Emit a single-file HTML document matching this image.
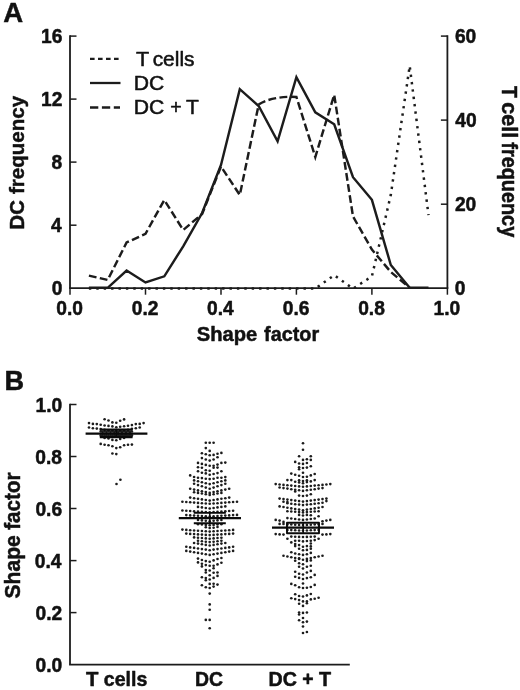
<!DOCTYPE html>
<html lang="en">
<head>
<meta charset="utf-8">
<title>Figure: shape factor of DC and T cells</title>
<style>
html,body{margin:0;padding:0;background:#fff;}
body{width:520px;height:690px;overflow:hidden;font-family:"Liberation Sans",Arial,Helvetica,sans-serif;}
svg{display:block;will-change:transform;}
</style>
</head>
<body>
<svg width="520" height="690" viewBox="0 0 520 690">
<g font-family="'Liberation Sans', Arial, Helvetica, sans-serif" fill="#111" stroke="#111" stroke-width="0.5" stroke-linejoin="round">
<text x="3.15" y="22.3" font-size="28.3" font-weight="bold" textLength="19.9" lengthAdjust="spacingAndGlyphs">A</text>
<text x="4.4" y="390.4" font-size="27.5" font-weight="bold" textLength="19.6" lengthAdjust="spacingAndGlyphs">B</text>
<g stroke="#1c1c1c" stroke-width="1.8" fill="none" stroke-linecap="butt">
<path d="M70,35.3 V288.2 M447.4,35.3 V288.2"/>
<path d="M69.1,288.2 H448.3"/>
</g>
<g stroke="#1c1c1c" stroke-width="1.5" fill="none">
<path d="M70,225.2 h6.5"/>
<path d="M70,162.1 h6.5"/>
<path d="M70,99.1 h6.5"/>
<path d="M70,36.1 h6.5"/>
<path d="M447.4,204.2 h-6.5"/>
<path d="M447.4,120.1 h-6.5"/>
<path d="M447.4,36.1 h-6.5"/>
<path d="M70.0,288.2 v6.5"/>
<path d="M145.5,288.2 v6.5"/>
<path d="M221.0,288.2 v6.5"/>
<path d="M296.4,288.2 v6.5"/>
<path d="M371.9,288.2 v6.5"/>
<path d="M447.4,288.2 v6.5"/>
</g>
<text x="51.71" y="295.40" font-size="20.0" font-weight="bold" textLength="10.68" lengthAdjust="spacingAndGlyphs">0</text>
<text x="51.04" y="232.37" font-size="20.0" font-weight="bold" textLength="10.68" lengthAdjust="spacingAndGlyphs">4</text>
<text x="51.52" y="169.35" font-size="20.0" font-weight="bold" textLength="10.68" lengthAdjust="spacingAndGlyphs">8</text>
<text x="41.06" y="106.33" font-size="20.0" font-weight="bold" textLength="21.36" lengthAdjust="spacingAndGlyphs">12</text>
<text x="40.96" y="43.30" font-size="20.0" font-weight="bold" textLength="21.36" lengthAdjust="spacingAndGlyphs">16</text>
<text x="454.83" y="295.40" font-size="20.0" font-weight="bold" textLength="10.68" lengthAdjust="spacingAndGlyphs">0</text>
<text x="454.93" y="211.37" font-size="20.0" font-weight="bold" textLength="21.36" lengthAdjust="spacingAndGlyphs">20</text>
<text x="455.31" y="127.33" font-size="20.0" font-weight="bold" textLength="21.36" lengthAdjust="spacingAndGlyphs">40</text>
<text x="454.93" y="43.30" font-size="20.0" font-weight="bold" textLength="21.36" lengthAdjust="spacingAndGlyphs">60</text>
<text x="56.36" y="315.00" font-size="20.0" font-weight="bold" textLength="26.69" lengthAdjust="spacingAndGlyphs">0.0</text>
<text x="131.84" y="315.00" font-size="20.0" font-weight="bold" textLength="26.69" lengthAdjust="spacingAndGlyphs">0.2</text>
<text x="206.98" y="315.00" font-size="20.0" font-weight="bold" textLength="26.69" lengthAdjust="spacingAndGlyphs">0.4</text>
<text x="282.75" y="315.00" font-size="20.0" font-weight="bold" textLength="26.69" lengthAdjust="spacingAndGlyphs">0.6</text>
<text x="358.18" y="315.00" font-size="20.0" font-weight="bold" textLength="26.69" lengthAdjust="spacingAndGlyphs">0.8</text>
<text x="433.56" y="315.00" font-size="20.0" font-weight="bold" textLength="26.69" lengthAdjust="spacingAndGlyphs">1.0</text>
<text x="196.80" y="341.20" font-size="20.0" font-weight="bold" textLength="60.43" lengthAdjust="spacingAndGlyphs">Shape</text>
<text x="264.10" y="341.20" font-size="20.0" font-weight="bold" textLength="55.06" lengthAdjust="spacingAndGlyphs">factor</text>
<text transform="translate(23.70,228.20) rotate(-90)" x="-1.32" y="0" font-size="20.8" font-weight="bold" textLength="29.32" lengthAdjust="spacingAndGlyphs">DC</text>
<text transform="translate(23.70,193.70) rotate(-90)" x="-0.31" y="0" font-size="20.8" font-weight="bold" textLength="98.20" lengthAdjust="spacingAndGlyphs">frequency</text>
<text transform="translate(502.40,86.30) rotate(90)" x="-0.19" y="0" font-size="21.2" font-weight="bold" textLength="11.70" lengthAdjust="spacingAndGlyphs">T</text>
<text transform="translate(502.40,103.20) rotate(90)" x="-0.86" y="0" font-size="21.2" font-weight="bold" textLength="35.82" lengthAdjust="spacingAndGlyphs">cell</text>
<text transform="translate(502.40,142.60) rotate(90)" x="-0.30" y="0" font-size="21.2" font-weight="bold" textLength="94.89" lengthAdjust="spacingAndGlyphs">frequency</text>
<text transform="translate(19.90,597.90) rotate(-90)" x="-0.63" y="0" font-size="21.2" font-weight="bold" textLength="63.29" lengthAdjust="spacingAndGlyphs">Shape</text>
<text transform="translate(19.90,529.50) rotate(-90)" x="-0.31" y="0" font-size="21.2" font-weight="bold" textLength="57.39" lengthAdjust="spacingAndGlyphs">factor</text>
<g stroke="#1c1c1c" stroke-width="2.3" fill="none">
<path d="M90,58.8 H120" stroke-dasharray="4.6 3.4"/>
<path d="M90,83 H120.5"/>
<path d="M90,107.5 H120" stroke-dasharray="8.3 3.6"/>
</g>
<text x="136.07" y="65.80" font-size="19.5" textLength="13.18" lengthAdjust="spacingAndGlyphs">T</text>
<text x="152.66" y="65.80" font-size="19.5" textLength="41.88" lengthAdjust="spacingAndGlyphs">cells</text>
<text x="133.81" y="89.80" font-size="19.5" textLength="30.52" lengthAdjust="spacingAndGlyphs">DC</text>
<text x="133.81" y="114.10" font-size="19.5" textLength="30.52" lengthAdjust="spacingAndGlyphs">DC</text>
<text x="170.22" y="114.10" font-size="19.5" textLength="11.44" lengthAdjust="spacingAndGlyphs">+</text>
<text x="186.08" y="114.10" font-size="19.5" textLength="12.86" lengthAdjust="spacingAndGlyphs">T</text>
<g stroke="#1c1c1c" fill="none" stroke-linejoin="miter">
<polyline points="88.9,288.6 107.7,288.6 126.6,288.6 145.5,288.6 164.3,288.6 183.2,288.6 202.1,288.6 221.0,288.6 239.8,288.6 258.7,288.6 277.6,288.6 296.4,288.6 315.3,288.6 334.2,275.2 353.0,288.6 371.9,276.4 390.8,194.9 409.7,65.9 428.5,215.1" stroke-width="2.5" stroke-dasharray="2.4 5.0" />
<path d="M88.9,275.6 L107.7,280.0 L126.6,242.5 L145.5,233.8 L164.3,200.0 L183.2,230.0 L202.1,214.0 L221.0,166.5 L239.8,195.0 L258.7,104.5 C266.7,99.0 282.4,96.0 296.4,97.0 L315.3,157.0 L334.2,94.8 L353.0,216.5 L371.9,249.6 L390.8,272.0 L409.7,287.8" stroke-width="2.45" stroke-dasharray="7.8 3.4"/>
<polyline points="88.9,287.8 107.7,287.8 126.6,270.5 145.5,282.5 164.3,276.3 183.2,246.3 202.1,213.0 221.0,165.0 239.8,89.2 258.7,106.0 277.6,141.3 296.4,77.2 315.3,112.3 334.2,124.3 353.0,177.2 371.9,199.8 390.8,265.0 409.7,287.8 428.5,287.8" stroke-width="2.45"/>
</g>
<g stroke="#1c1c1c" stroke-width="1.8" fill="none">
<path d="M70,403.7 V664.6"/>
<path d="M69.1,664.6 H349.8"/>
</g>
<g stroke="#1c1c1c" stroke-width="1.5" fill="none">
<path d="M70,612.6 h6.5"/>
<path d="M70,560.6 h6.5"/>
<path d="M70,508.5 h6.5"/>
<path d="M70,456.5 h6.5"/>
<path d="M70,404.5 h6.5"/>
</g>
<text x="35.48" y="671.80" font-size="20.0" font-weight="bold" textLength="26.69" lengthAdjust="spacingAndGlyphs">0.0</text>
<text x="35.48" y="619.78" font-size="20.0" font-weight="bold" textLength="26.69" lengthAdjust="spacingAndGlyphs">0.2</text>
<text x="34.81" y="567.76" font-size="20.0" font-weight="bold" textLength="26.69" lengthAdjust="spacingAndGlyphs">0.4</text>
<text x="35.38" y="515.74" font-size="20.0" font-weight="bold" textLength="26.69" lengthAdjust="spacingAndGlyphs">0.6</text>
<text x="35.29" y="463.72" font-size="20.0" font-weight="bold" textLength="26.69" lengthAdjust="spacingAndGlyphs">0.8</text>
<text x="35.48" y="411.70" font-size="20.0" font-weight="bold" textLength="26.69" lengthAdjust="spacingAndGlyphs">1.0</text>
<text x="86.00" y="685.50" font-size="19.8" font-weight="bold" textLength="12.42" lengthAdjust="spacingAndGlyphs">T</text>
<text x="103.82" y="685.50" font-size="19.8" font-weight="bold" textLength="43.45" lengthAdjust="spacingAndGlyphs">cells</text>
<text x="195.04" y="685.50" font-size="19.8" font-weight="bold" textLength="28.03" lengthAdjust="spacingAndGlyphs">DC</text>
<text x="268.52" y="685.50" font-size="19.8" font-weight="bold" textLength="28.35" lengthAdjust="spacingAndGlyphs">DC</text>
<text x="302.32" y="685.50" font-size="19.8" font-weight="bold" textLength="11.33" lengthAdjust="spacingAndGlyphs">+</text>
<text x="318.90" y="685.50" font-size="19.8" font-weight="bold" textLength="12.11" lengthAdjust="spacingAndGlyphs">T</text>
<g fill="#1c1c1c" stroke="none">
<circle cx="104.6" cy="419.2" r="1.32"/>
<circle cx="108.5" cy="420.5" r="1.32"/>
<circle cx="112.4" cy="422.4" r="1.32"/>
<circle cx="116.3" cy="422.8" r="1.32"/>
<circle cx="120.2" cy="420.8" r="1.32"/>
<circle cx="124.1" cy="419.4" r="1.32"/>
<circle cx="89.0" cy="423.1" r="1.32"/>
<circle cx="92.9" cy="423.9" r="1.32"/>
<circle cx="96.8" cy="424.1" r="1.32"/>
<circle cx="100.7" cy="424.8" r="1.32"/>
<circle cx="104.6" cy="425.5" r="1.32"/>
<circle cx="108.5" cy="425.9" r="1.32"/>
<circle cx="112.4" cy="426.4" r="1.32"/>
<circle cx="116.3" cy="427.2" r="1.32"/>
<circle cx="120.2" cy="426.8" r="1.32"/>
<circle cx="124.1" cy="426.2" r="1.32"/>
<circle cx="128.0" cy="425.7" r="1.32"/>
<circle cx="131.9" cy="425.1" r="1.32"/>
<circle cx="135.8" cy="424.1" r="1.32"/>
<circle cx="139.7" cy="423.9" r="1.32"/>
<circle cx="143.6" cy="423.1" r="1.32"/>
<circle cx="89.0" cy="427.5" r="1.32"/>
<circle cx="92.9" cy="428.2" r="1.32"/>
<circle cx="96.8" cy="428.6" r="1.32"/>
<circle cx="100.7" cy="429.1" r="1.32"/>
<circle cx="104.6" cy="429.7" r="1.32"/>
<circle cx="108.5" cy="430.2" r="1.32"/>
<circle cx="112.4" cy="430.6" r="1.32"/>
<circle cx="116.3" cy="431.0" r="1.32"/>
<circle cx="120.2" cy="430.6" r="1.32"/>
<circle cx="124.1" cy="430.2" r="1.32"/>
<circle cx="128.0" cy="429.7" r="1.32"/>
<circle cx="131.9" cy="428.8" r="1.32"/>
<circle cx="135.8" cy="428.2" r="1.32"/>
<circle cx="139.7" cy="427.5" r="1.32"/>
<circle cx="100.7" cy="431.5" r="1.32"/>
<circle cx="104.6" cy="431.5" r="1.32"/>
<circle cx="108.5" cy="431.5" r="1.32"/>
<circle cx="112.4" cy="431.5" r="1.32"/>
<circle cx="116.3" cy="431.5" r="1.32"/>
<circle cx="120.2" cy="431.5" r="1.32"/>
<circle cx="124.1" cy="431.5" r="1.32"/>
<circle cx="128.0" cy="431.5" r="1.32"/>
<circle cx="131.9" cy="431.5" r="1.32"/>
<circle cx="102.6" cy="431.9" r="1.32"/>
<circle cx="106.5" cy="431.9" r="1.32"/>
<circle cx="110.5" cy="431.9" r="1.32"/>
<circle cx="114.3" cy="431.9" r="1.32"/>
<circle cx="118.2" cy="431.9" r="1.32"/>
<circle cx="122.1" cy="431.9" r="1.32"/>
<circle cx="126.0" cy="431.9" r="1.32"/>
<circle cx="129.9" cy="431.9" r="1.32"/>
<circle cx="100.7" cy="435.4" r="1.32"/>
<circle cx="104.6" cy="435.4" r="1.32"/>
<circle cx="108.5" cy="435.4" r="1.32"/>
<circle cx="112.4" cy="435.4" r="1.32"/>
<circle cx="116.3" cy="435.4" r="1.32"/>
<circle cx="120.2" cy="435.4" r="1.32"/>
<circle cx="124.1" cy="435.4" r="1.32"/>
<circle cx="128.0" cy="435.4" r="1.32"/>
<circle cx="131.9" cy="435.4" r="1.32"/>
<circle cx="102.6" cy="435.0" r="1.32"/>
<circle cx="106.5" cy="435.0" r="1.32"/>
<circle cx="110.5" cy="435.0" r="1.32"/>
<circle cx="114.3" cy="435.0" r="1.32"/>
<circle cx="118.2" cy="435.0" r="1.32"/>
<circle cx="122.1" cy="435.0" r="1.32"/>
<circle cx="126.0" cy="435.0" r="1.32"/>
<circle cx="129.9" cy="435.0" r="1.32"/>
<circle cx="104.6" cy="438.0" r="1.32"/>
<circle cx="108.5" cy="438.5" r="1.32"/>
<circle cx="112.4" cy="439.9" r="1.32"/>
<circle cx="116.3" cy="440.3" r="1.32"/>
<circle cx="120.2" cy="438.9" r="1.32"/>
<circle cx="124.1" cy="438.0" r="1.32"/>
<circle cx="100.7" cy="443.9" r="1.32"/>
<circle cx="104.6" cy="444.7" r="1.32"/>
<circle cx="108.5" cy="445.3" r="1.32"/>
<circle cx="112.4" cy="446.3" r="1.32"/>
<circle cx="116.3" cy="448.1" r="1.32"/>
<circle cx="120.2" cy="447.3" r="1.32"/>
<circle cx="124.1" cy="445.3" r="1.32"/>
<circle cx="128.0" cy="444.7" r="1.32"/>
<circle cx="131.9" cy="444.6" r="1.32"/>
<circle cx="112.4" cy="453.5" r="1.32"/>
<circle cx="116.3" cy="454.1" r="1.32"/>
<circle cx="120.4" cy="479.8" r="1.32"/>
<circle cx="116.5" cy="484.0" r="1.32"/>
<circle cx="205.8" cy="442.8" r="1.32"/>
<circle cx="209.7" cy="442.8" r="1.32"/>
<circle cx="213.6" cy="442.8" r="1.32"/>
<circle cx="205.8" cy="448.1" r="1.32"/>
<circle cx="209.7" cy="450.9" r="1.32"/>
<circle cx="201.9" cy="453.2" r="1.32"/>
<circle cx="205.8" cy="454.2" r="1.32"/>
<circle cx="209.7" cy="455.2" r="1.32"/>
<circle cx="213.6" cy="454.9" r="1.32"/>
<circle cx="217.5" cy="453.8" r="1.32"/>
<circle cx="221.4" cy="452.9" r="1.32"/>
<circle cx="201.9" cy="458.1" r="1.32"/>
<circle cx="205.8" cy="459.5" r="1.32"/>
<circle cx="209.7" cy="460.6" r="1.32"/>
<circle cx="213.6" cy="459.5" r="1.32"/>
<circle cx="217.5" cy="457.2" r="1.32"/>
<circle cx="198.0" cy="462.9" r="1.32"/>
<circle cx="201.9" cy="463.9" r="1.32"/>
<circle cx="205.8" cy="464.9" r="1.32"/>
<circle cx="209.7" cy="465.7" r="1.32"/>
<circle cx="213.6" cy="465.7" r="1.32"/>
<circle cx="217.5" cy="464.6" r="1.32"/>
<circle cx="221.4" cy="462.9" r="1.32"/>
<circle cx="225.3" cy="462.6" r="1.32"/>
<circle cx="198.0" cy="467.3" r="1.32"/>
<circle cx="201.9" cy="467.7" r="1.32"/>
<circle cx="213.6" cy="467.7" r="1.32"/>
<circle cx="217.5" cy="467.6" r="1.32"/>
<circle cx="198.0" cy="471.3" r="1.32"/>
<circle cx="201.9" cy="472.7" r="1.32"/>
<circle cx="205.8" cy="473.4" r="1.32"/>
<circle cx="209.7" cy="474.7" r="1.32"/>
<circle cx="213.6" cy="474.0" r="1.32"/>
<circle cx="217.5" cy="473.1" r="1.32"/>
<circle cx="221.4" cy="471.3" r="1.32"/>
<circle cx="205.8" cy="470.3" r="1.32"/>
<circle cx="209.7" cy="470.7" r="1.32"/>
<circle cx="190.2" cy="475.4" r="1.32"/>
<circle cx="194.1" cy="477.0" r="1.32"/>
<circle cx="198.0" cy="477.8" r="1.32"/>
<circle cx="201.9" cy="478.1" r="1.32"/>
<circle cx="205.8" cy="478.7" r="1.32"/>
<circle cx="209.7" cy="479.1" r="1.32"/>
<circle cx="213.6" cy="478.7" r="1.32"/>
<circle cx="217.5" cy="477.8" r="1.32"/>
<circle cx="221.4" cy="477.8" r="1.32"/>
<circle cx="225.3" cy="477.1" r="1.32"/>
<circle cx="194.1" cy="480.4" r="1.32"/>
<circle cx="198.0" cy="481.3" r="1.32"/>
<circle cx="201.9" cy="482.2" r="1.32"/>
<circle cx="205.8" cy="483.2" r="1.32"/>
<circle cx="209.7" cy="484.1" r="1.32"/>
<circle cx="213.6" cy="483.2" r="1.32"/>
<circle cx="217.5" cy="482.2" r="1.32"/>
<circle cx="221.4" cy="481.3" r="1.32"/>
<circle cx="225.3" cy="480.4" r="1.32"/>
<circle cx="194.1" cy="483.8" r="1.32"/>
<circle cx="198.0" cy="485.1" r="1.32"/>
<circle cx="201.9" cy="486.3" r="1.32"/>
<circle cx="205.8" cy="487.6" r="1.32"/>
<circle cx="209.7" cy="488.8" r="1.32"/>
<circle cx="213.6" cy="487.6" r="1.32"/>
<circle cx="217.5" cy="486.3" r="1.32"/>
<circle cx="221.4" cy="485.1" r="1.32"/>
<circle cx="225.3" cy="483.8" r="1.32"/>
<circle cx="190.2" cy="488.8" r="1.32"/>
<circle cx="194.1" cy="489.6" r="1.32"/>
<circle cx="198.0" cy="490.4" r="1.32"/>
<circle cx="201.9" cy="491.3" r="1.32"/>
<circle cx="205.8" cy="492.1" r="1.32"/>
<circle cx="209.7" cy="492.9" r="1.32"/>
<circle cx="213.6" cy="492.1" r="1.32"/>
<circle cx="217.5" cy="491.3" r="1.32"/>
<circle cx="221.4" cy="490.4" r="1.32"/>
<circle cx="225.3" cy="489.6" r="1.32"/>
<circle cx="229.2" cy="488.8" r="1.32"/>
<circle cx="194.1" cy="492.2" r="1.32"/>
<circle cx="198.0" cy="492.9" r="1.32"/>
<circle cx="201.9" cy="493.5" r="1.32"/>
<circle cx="205.8" cy="494.2" r="1.32"/>
<circle cx="209.7" cy="494.9" r="1.32"/>
<circle cx="213.6" cy="494.2" r="1.32"/>
<circle cx="217.5" cy="493.5" r="1.32"/>
<circle cx="221.4" cy="492.9" r="1.32"/>
<circle cx="190.2" cy="497.6" r="1.32"/>
<circle cx="194.1" cy="498.2" r="1.32"/>
<circle cx="198.0" cy="498.8" r="1.32"/>
<circle cx="201.9" cy="499.4" r="1.32"/>
<circle cx="205.8" cy="500.0" r="1.32"/>
<circle cx="209.7" cy="500.6" r="1.32"/>
<circle cx="213.6" cy="500.0" r="1.32"/>
<circle cx="217.5" cy="499.4" r="1.32"/>
<circle cx="221.4" cy="498.8" r="1.32"/>
<circle cx="225.3" cy="498.2" r="1.32"/>
<circle cx="229.2" cy="497.6" r="1.32"/>
<circle cx="182.4" cy="501.7" r="1.32"/>
<circle cx="186.3" cy="502.0" r="1.32"/>
<circle cx="190.2" cy="502.3" r="1.32"/>
<circle cx="194.1" cy="502.6" r="1.32"/>
<circle cx="198.0" cy="502.9" r="1.32"/>
<circle cx="201.9" cy="503.2" r="1.32"/>
<circle cx="205.8" cy="503.5" r="1.32"/>
<circle cx="209.7" cy="503.8" r="1.32"/>
<circle cx="213.6" cy="503.5" r="1.32"/>
<circle cx="217.5" cy="503.2" r="1.32"/>
<circle cx="221.4" cy="502.9" r="1.32"/>
<circle cx="225.3" cy="502.6" r="1.32"/>
<circle cx="229.2" cy="502.3" r="1.32"/>
<circle cx="233.1" cy="502.0" r="1.32"/>
<circle cx="237.0" cy="501.7" r="1.32"/>
<circle cx="198.0" cy="506.9" r="1.32"/>
<circle cx="201.9" cy="507.4" r="1.32"/>
<circle cx="205.8" cy="508.0" r="1.32"/>
<circle cx="209.7" cy="508.5" r="1.32"/>
<circle cx="213.6" cy="508.0" r="1.32"/>
<circle cx="217.5" cy="507.4" r="1.32"/>
<circle cx="221.4" cy="506.9" r="1.32"/>
<circle cx="225.3" cy="506.4" r="1.32"/>
<circle cx="182.4" cy="510.5" r="1.32"/>
<circle cx="186.3" cy="510.7" r="1.32"/>
<circle cx="190.2" cy="511.0" r="1.32"/>
<circle cx="194.1" cy="511.2" r="1.32"/>
<circle cx="198.0" cy="511.5" r="1.32"/>
<circle cx="201.9" cy="511.7" r="1.32"/>
<circle cx="205.8" cy="512.0" r="1.32"/>
<circle cx="209.7" cy="512.2" r="1.32"/>
<circle cx="213.6" cy="512.0" r="1.32"/>
<circle cx="217.5" cy="511.7" r="1.32"/>
<circle cx="221.4" cy="511.5" r="1.32"/>
<circle cx="225.3" cy="511.2" r="1.32"/>
<circle cx="229.2" cy="511.0" r="1.32"/>
<circle cx="233.1" cy="510.7" r="1.32"/>
<circle cx="186.3" cy="515.1" r="1.32"/>
<circle cx="190.2" cy="515.4" r="1.32"/>
<circle cx="194.1" cy="515.6" r="1.32"/>
<circle cx="198.0" cy="515.8" r="1.32"/>
<circle cx="201.9" cy="516.0" r="1.32"/>
<circle cx="205.8" cy="516.3" r="1.32"/>
<circle cx="209.7" cy="516.5" r="1.32"/>
<circle cx="213.6" cy="516.3" r="1.32"/>
<circle cx="217.5" cy="516.0" r="1.32"/>
<circle cx="221.4" cy="515.8" r="1.32"/>
<circle cx="225.3" cy="515.6" r="1.32"/>
<circle cx="229.2" cy="515.4" r="1.32"/>
<circle cx="233.1" cy="515.1" r="1.32"/>
<circle cx="237.0" cy="514.9" r="1.32"/>
<circle cx="198.0" cy="520.0" r="1.32"/>
<circle cx="201.9" cy="520.4" r="1.32"/>
<circle cx="205.8" cy="520.8" r="1.32"/>
<circle cx="209.7" cy="521.2" r="1.32"/>
<circle cx="213.6" cy="520.8" r="1.32"/>
<circle cx="217.5" cy="520.4" r="1.32"/>
<circle cx="221.4" cy="520.0" r="1.32"/>
<circle cx="198.0" cy="524.2" r="1.32"/>
<circle cx="201.9" cy="524.5" r="1.32"/>
<circle cx="205.8" cy="524.9" r="1.32"/>
<circle cx="209.7" cy="525.2" r="1.32"/>
<circle cx="213.6" cy="524.9" r="1.32"/>
<circle cx="217.5" cy="524.5" r="1.32"/>
<circle cx="221.4" cy="524.2" r="1.32"/>
<circle cx="205.8" cy="527.3" r="1.32"/>
<circle cx="209.7" cy="528.0" r="1.32"/>
<circle cx="213.6" cy="527.7" r="1.32"/>
<circle cx="217.5" cy="527.0" r="1.32"/>
<circle cx="182.4" cy="529.6" r="1.32"/>
<circle cx="186.3" cy="529.9" r="1.32"/>
<circle cx="190.2" cy="530.2" r="1.32"/>
<circle cx="194.1" cy="530.5" r="1.32"/>
<circle cx="198.0" cy="530.7" r="1.32"/>
<circle cx="201.9" cy="531.0" r="1.32"/>
<circle cx="205.8" cy="531.3" r="1.32"/>
<circle cx="209.7" cy="531.6" r="1.32"/>
<circle cx="213.6" cy="531.3" r="1.32"/>
<circle cx="217.5" cy="531.0" r="1.32"/>
<circle cx="221.4" cy="530.7" r="1.32"/>
<circle cx="225.3" cy="530.5" r="1.32"/>
<circle cx="229.2" cy="530.2" r="1.32"/>
<circle cx="233.1" cy="529.9" r="1.32"/>
<circle cx="186.3" cy="533.6" r="1.32"/>
<circle cx="190.2" cy="533.9" r="1.32"/>
<circle cx="194.1" cy="534.1" r="1.32"/>
<circle cx="198.0" cy="534.4" r="1.32"/>
<circle cx="201.9" cy="534.6" r="1.32"/>
<circle cx="205.8" cy="534.9" r="1.32"/>
<circle cx="209.7" cy="535.1" r="1.32"/>
<circle cx="213.6" cy="534.9" r="1.32"/>
<circle cx="217.5" cy="534.6" r="1.32"/>
<circle cx="221.4" cy="534.4" r="1.32"/>
<circle cx="225.3" cy="534.1" r="1.32"/>
<circle cx="229.2" cy="533.9" r="1.32"/>
<circle cx="233.1" cy="533.6" r="1.32"/>
<circle cx="194.1" cy="537.4" r="1.32"/>
<circle cx="198.0" cy="537.7" r="1.32"/>
<circle cx="201.9" cy="538.0" r="1.32"/>
<circle cx="205.8" cy="538.4" r="1.32"/>
<circle cx="209.7" cy="538.7" r="1.32"/>
<circle cx="213.6" cy="538.4" r="1.32"/>
<circle cx="217.5" cy="538.0" r="1.32"/>
<circle cx="221.4" cy="537.7" r="1.32"/>
<circle cx="198.0" cy="540.8" r="1.32"/>
<circle cx="201.9" cy="541.2" r="1.32"/>
<circle cx="205.8" cy="541.7" r="1.32"/>
<circle cx="209.7" cy="542.1" r="1.32"/>
<circle cx="213.6" cy="541.7" r="1.32"/>
<circle cx="217.5" cy="541.2" r="1.32"/>
<circle cx="221.4" cy="540.8" r="1.32"/>
<circle cx="194.1" cy="543.0" r="1.32"/>
<circle cx="198.0" cy="543.6" r="1.32"/>
<circle cx="201.9" cy="544.2" r="1.32"/>
<circle cx="205.8" cy="544.9" r="1.32"/>
<circle cx="209.7" cy="545.5" r="1.32"/>
<circle cx="213.6" cy="544.9" r="1.32"/>
<circle cx="217.5" cy="544.2" r="1.32"/>
<circle cx="221.4" cy="543.6" r="1.32"/>
<circle cx="225.3" cy="543.0" r="1.32"/>
<circle cx="186.3" cy="546.8" r="1.32"/>
<circle cx="190.2" cy="547.4" r="1.32"/>
<circle cx="194.1" cy="547.9" r="1.32"/>
<circle cx="198.0" cy="548.5" r="1.32"/>
<circle cx="201.9" cy="549.1" r="1.32"/>
<circle cx="205.8" cy="549.6" r="1.32"/>
<circle cx="209.7" cy="550.2" r="1.32"/>
<circle cx="213.6" cy="549.6" r="1.32"/>
<circle cx="217.5" cy="549.1" r="1.32"/>
<circle cx="221.4" cy="548.5" r="1.32"/>
<circle cx="225.3" cy="547.9" r="1.32"/>
<circle cx="229.2" cy="547.4" r="1.32"/>
<circle cx="233.1" cy="546.8" r="1.32"/>
<circle cx="186.3" cy="550.9" r="1.32"/>
<circle cx="190.2" cy="551.6" r="1.32"/>
<circle cx="194.1" cy="552.2" r="1.32"/>
<circle cx="198.0" cy="552.9" r="1.32"/>
<circle cx="201.9" cy="553.6" r="1.32"/>
<circle cx="205.8" cy="554.2" r="1.32"/>
<circle cx="209.7" cy="554.9" r="1.32"/>
<circle cx="213.6" cy="554.2" r="1.32"/>
<circle cx="217.5" cy="553.6" r="1.32"/>
<circle cx="221.4" cy="552.9" r="1.32"/>
<circle cx="225.3" cy="552.2" r="1.32"/>
<circle cx="229.2" cy="551.6" r="1.32"/>
<circle cx="233.1" cy="550.9" r="1.32"/>
<circle cx="198.0" cy="558.6" r="1.32"/>
<circle cx="201.9" cy="560.0" r="1.32"/>
<circle cx="205.8" cy="561.1" r="1.32"/>
<circle cx="209.7" cy="561.7" r="1.32"/>
<circle cx="213.6" cy="560.4" r="1.32"/>
<circle cx="217.5" cy="559.0" r="1.32"/>
<circle cx="221.4" cy="558.0" r="1.32"/>
<circle cx="198.0" cy="562.4" r="1.32"/>
<circle cx="201.9" cy="563.7" r="1.32"/>
<circle cx="201.9" cy="566.4" r="1.32"/>
<circle cx="205.8" cy="565.1" r="1.32"/>
<circle cx="209.7" cy="565.8" r="1.32"/>
<circle cx="213.6" cy="565.8" r="1.32"/>
<circle cx="213.6" cy="568.2" r="1.32"/>
<circle cx="217.5" cy="564.4" r="1.32"/>
<circle cx="221.4" cy="562.7" r="1.32"/>
<circle cx="205.8" cy="570.1" r="1.32"/>
<circle cx="205.8" cy="572.5" r="1.32"/>
<circle cx="209.7" cy="570.5" r="1.32"/>
<circle cx="213.6" cy="572.8" r="1.32"/>
<circle cx="217.5" cy="572.5" r="1.32"/>
<circle cx="209.7" cy="575.2" r="1.32"/>
<circle cx="217.5" cy="575.9" r="1.32"/>
<circle cx="201.9" cy="577.2" r="1.32"/>
<circle cx="205.8" cy="578.1" r="1.32"/>
<circle cx="205.8" cy="580.2" r="1.32"/>
<circle cx="209.7" cy="579.5" r="1.32"/>
<circle cx="213.6" cy="577.9" r="1.32"/>
<circle cx="201.9" cy="585.3" r="1.32"/>
<circle cx="205.8" cy="587.3" r="1.32"/>
<circle cx="209.7" cy="583.9" r="1.32"/>
<circle cx="209.7" cy="588.0" r="1.32"/>
<circle cx="213.6" cy="583.7" r="1.32"/>
<circle cx="213.6" cy="586.6" r="1.32"/>
<circle cx="217.5" cy="584.6" r="1.32"/>
<circle cx="209.7" cy="593.6" r="1.32"/>
<circle cx="209.7" cy="604.4" r="1.32"/>
<circle cx="209.7" cy="609.7" r="1.32"/>
<circle cx="205.8" cy="619.9" r="1.32"/>
<circle cx="209.7" cy="619.9" r="1.32"/>
<circle cx="209.7" cy="628.3" r="1.32"/>
<circle cx="303.0" cy="443.3" r="1.32"/>
<circle cx="303.0" cy="449.8" r="1.32"/>
<circle cx="299.1" cy="456.3" r="1.32"/>
<circle cx="310.8" cy="456.3" r="1.32"/>
<circle cx="303.0" cy="459.9" r="1.32"/>
<circle cx="306.9" cy="459.2" r="1.32"/>
<circle cx="310.8" cy="459.9" r="1.32"/>
<circle cx="295.2" cy="461.9" r="1.32"/>
<circle cx="299.1" cy="463.5" r="1.32"/>
<circle cx="303.0" cy="463.9" r="1.32"/>
<circle cx="306.9" cy="463.0" r="1.32"/>
<circle cx="299.1" cy="467.3" r="1.32"/>
<circle cx="299.1" cy="469.3" r="1.32"/>
<circle cx="303.0" cy="468.0" r="1.32"/>
<circle cx="306.9" cy="467.6" r="1.32"/>
<circle cx="310.8" cy="466.2" r="1.32"/>
<circle cx="303.0" cy="472.7" r="1.32"/>
<circle cx="291.3" cy="473.6" r="1.32"/>
<circle cx="295.2" cy="474.7" r="1.32"/>
<circle cx="299.1" cy="475.8" r="1.32"/>
<circle cx="303.0" cy="477.0" r="1.32"/>
<circle cx="306.9" cy="476.7" r="1.32"/>
<circle cx="310.8" cy="475.4" r="1.32"/>
<circle cx="314.7" cy="474.0" r="1.32"/>
<circle cx="287.4" cy="480.1" r="1.32"/>
<circle cx="291.3" cy="480.1" r="1.32"/>
<circle cx="295.2" cy="481.8" r="1.32"/>
<circle cx="299.1" cy="482.4" r="1.32"/>
<circle cx="303.0" cy="483.2" r="1.32"/>
<circle cx="306.9" cy="482.1" r="1.32"/>
<circle cx="310.8" cy="481.4" r="1.32"/>
<circle cx="314.7" cy="480.1" r="1.32"/>
<circle cx="299.1" cy="480.2" r="1.32"/>
<circle cx="303.0" cy="481.0" r="1.32"/>
<circle cx="306.9" cy="480.2" r="1.32"/>
<circle cx="275.7" cy="484.1" r="1.32"/>
<circle cx="279.6" cy="484.5" r="1.32"/>
<circle cx="283.5" cy="484.9" r="1.32"/>
<circle cx="287.4" cy="485.3" r="1.32"/>
<circle cx="291.3" cy="485.6" r="1.32"/>
<circle cx="295.2" cy="486.0" r="1.32"/>
<circle cx="299.1" cy="486.4" r="1.32"/>
<circle cx="303.0" cy="486.8" r="1.32"/>
<circle cx="306.9" cy="486.4" r="1.32"/>
<circle cx="310.8" cy="486.0" r="1.32"/>
<circle cx="314.7" cy="485.6" r="1.32"/>
<circle cx="318.6" cy="485.3" r="1.32"/>
<circle cx="322.5" cy="484.9" r="1.32"/>
<circle cx="326.4" cy="484.5" r="1.32"/>
<circle cx="330.3" cy="484.1" r="1.32"/>
<circle cx="279.6" cy="487.5" r="1.32"/>
<circle cx="283.5" cy="488.1" r="1.32"/>
<circle cx="287.4" cy="488.6" r="1.32"/>
<circle cx="291.3" cy="489.2" r="1.32"/>
<circle cx="295.2" cy="489.8" r="1.32"/>
<circle cx="299.1" cy="490.3" r="1.32"/>
<circle cx="303.0" cy="490.9" r="1.32"/>
<circle cx="306.9" cy="490.3" r="1.32"/>
<circle cx="310.8" cy="489.8" r="1.32"/>
<circle cx="314.7" cy="489.2" r="1.32"/>
<circle cx="318.6" cy="488.6" r="1.32"/>
<circle cx="322.5" cy="488.1" r="1.32"/>
<circle cx="295.2" cy="491.5" r="1.32"/>
<circle cx="299.1" cy="495.6" r="1.32"/>
<circle cx="303.0" cy="496.0" r="1.32"/>
<circle cx="306.9" cy="495.6" r="1.32"/>
<circle cx="310.8" cy="494.2" r="1.32"/>
<circle cx="279.6" cy="498.6" r="1.32"/>
<circle cx="283.5" cy="499.1" r="1.32"/>
<circle cx="287.4" cy="499.6" r="1.32"/>
<circle cx="291.3" cy="500.1" r="1.32"/>
<circle cx="295.2" cy="500.6" r="1.32"/>
<circle cx="299.1" cy="501.1" r="1.32"/>
<circle cx="303.0" cy="501.6" r="1.32"/>
<circle cx="306.9" cy="501.1" r="1.32"/>
<circle cx="310.8" cy="500.6" r="1.32"/>
<circle cx="314.7" cy="500.1" r="1.32"/>
<circle cx="318.6" cy="499.6" r="1.32"/>
<circle cx="322.5" cy="499.1" r="1.32"/>
<circle cx="326.4" cy="498.6" r="1.32"/>
<circle cx="283.5" cy="501.7" r="1.32"/>
<circle cx="326.4" cy="501.1" r="1.32"/>
<circle cx="287.4" cy="502.0" r="1.32"/>
<circle cx="287.4" cy="503.3" r="1.32"/>
<circle cx="291.3" cy="503.7" r="1.32"/>
<circle cx="295.2" cy="504.2" r="1.32"/>
<circle cx="299.1" cy="504.6" r="1.32"/>
<circle cx="303.0" cy="505.1" r="1.32"/>
<circle cx="306.9" cy="504.6" r="1.32"/>
<circle cx="310.8" cy="504.2" r="1.32"/>
<circle cx="314.7" cy="503.7" r="1.32"/>
<circle cx="318.6" cy="503.3" r="1.32"/>
<circle cx="322.5" cy="502.8" r="1.32"/>
<circle cx="279.6" cy="506.4" r="1.32"/>
<circle cx="283.5" cy="507.0" r="1.32"/>
<circle cx="287.4" cy="507.7" r="1.32"/>
<circle cx="291.3" cy="508.4" r="1.32"/>
<circle cx="295.2" cy="509.0" r="1.32"/>
<circle cx="299.1" cy="509.6" r="1.32"/>
<circle cx="303.0" cy="510.3" r="1.32"/>
<circle cx="306.9" cy="509.6" r="1.32"/>
<circle cx="310.8" cy="509.0" r="1.32"/>
<circle cx="314.7" cy="508.4" r="1.32"/>
<circle cx="318.6" cy="507.7" r="1.32"/>
<circle cx="322.5" cy="507.0" r="1.32"/>
<circle cx="287.4" cy="511.2" r="1.32"/>
<circle cx="291.3" cy="511.5" r="1.32"/>
<circle cx="295.2" cy="511.8" r="1.32"/>
<circle cx="299.1" cy="512.1" r="1.32"/>
<circle cx="303.0" cy="512.4" r="1.32"/>
<circle cx="306.9" cy="512.1" r="1.32"/>
<circle cx="310.8" cy="511.8" r="1.32"/>
<circle cx="314.7" cy="511.5" r="1.32"/>
<circle cx="318.6" cy="511.2" r="1.32"/>
<circle cx="299.1" cy="514.9" r="1.32"/>
<circle cx="303.0" cy="515.5" r="1.32"/>
<circle cx="306.9" cy="514.9" r="1.32"/>
<circle cx="310.8" cy="515.2" r="1.32"/>
<circle cx="318.6" cy="516.3" r="1.32"/>
<circle cx="287.4" cy="518.1" r="1.32"/>
<circle cx="291.3" cy="518.5" r="1.32"/>
<circle cx="295.2" cy="519.0" r="1.32"/>
<circle cx="299.1" cy="519.5" r="1.32"/>
<circle cx="303.0" cy="519.9" r="1.32"/>
<circle cx="306.9" cy="519.5" r="1.32"/>
<circle cx="310.8" cy="519.0" r="1.32"/>
<circle cx="314.7" cy="518.5" r="1.32"/>
<circle cx="275.7" cy="519.9" r="1.32"/>
<circle cx="279.6" cy="520.6" r="1.32"/>
<circle cx="283.5" cy="521.9" r="1.32"/>
<circle cx="322.5" cy="521.2" r="1.32"/>
<circle cx="326.4" cy="520.6" r="1.32"/>
<circle cx="330.3" cy="519.9" r="1.32"/>
<circle cx="279.6" cy="523.9" r="1.32"/>
<circle cx="283.5" cy="523.9" r="1.32"/>
<circle cx="322.5" cy="523.9" r="1.32"/>
<circle cx="287.4" cy="524.4" r="1.32"/>
<circle cx="291.3" cy="524.5" r="1.32"/>
<circle cx="295.2" cy="524.7" r="1.32"/>
<circle cx="299.1" cy="524.9" r="1.32"/>
<circle cx="303.0" cy="525.0" r="1.32"/>
<circle cx="306.9" cy="524.9" r="1.32"/>
<circle cx="310.8" cy="524.7" r="1.32"/>
<circle cx="314.7" cy="524.5" r="1.32"/>
<circle cx="318.6" cy="524.4" r="1.32"/>
<circle cx="287.4" cy="530.0" r="1.32"/>
<circle cx="291.3" cy="530.1" r="1.32"/>
<circle cx="295.2" cy="530.3" r="1.32"/>
<circle cx="299.1" cy="530.5" r="1.32"/>
<circle cx="303.0" cy="530.6" r="1.32"/>
<circle cx="306.9" cy="530.5" r="1.32"/>
<circle cx="310.8" cy="530.3" r="1.32"/>
<circle cx="314.7" cy="530.1" r="1.32"/>
<circle cx="318.6" cy="530.0" r="1.32"/>
<circle cx="275.7" cy="534.1" r="1.32"/>
<circle cx="279.6" cy="534.4" r="1.32"/>
<circle cx="283.5" cy="534.6" r="1.32"/>
<circle cx="322.5" cy="534.6" r="1.32"/>
<circle cx="326.4" cy="534.4" r="1.32"/>
<circle cx="330.3" cy="534.1" r="1.32"/>
<circle cx="291.3" cy="536.6" r="1.32"/>
<circle cx="295.2" cy="536.7" r="1.32"/>
<circle cx="299.1" cy="536.9" r="1.32"/>
<circle cx="303.0" cy="537.0" r="1.32"/>
<circle cx="306.9" cy="536.9" r="1.32"/>
<circle cx="310.8" cy="536.7" r="1.32"/>
<circle cx="314.7" cy="536.6" r="1.32"/>
<circle cx="287.4" cy="538.7" r="1.32"/>
<circle cx="318.6" cy="538.7" r="1.32"/>
<circle cx="291.3" cy="542.4" r="1.32"/>
<circle cx="295.2" cy="540.8" r="1.32"/>
<circle cx="299.1" cy="540.8" r="1.32"/>
<circle cx="303.0" cy="541.4" r="1.32"/>
<circle cx="306.9" cy="541.0" r="1.32"/>
<circle cx="310.8" cy="540.8" r="1.32"/>
<circle cx="314.7" cy="540.1" r="1.32"/>
<circle cx="295.2" cy="544.1" r="1.32"/>
<circle cx="295.2" cy="546.1" r="1.32"/>
<circle cx="299.1" cy="545.1" r="1.32"/>
<circle cx="303.0" cy="546.8" r="1.32"/>
<circle cx="306.9" cy="546.1" r="1.32"/>
<circle cx="310.8" cy="543.5" r="1.32"/>
<circle cx="310.8" cy="546.4" r="1.32"/>
<circle cx="299.1" cy="548.8" r="1.32"/>
<circle cx="303.0" cy="550.2" r="1.32"/>
<circle cx="306.9" cy="549.9" r="1.32"/>
<circle cx="310.8" cy="548.8" r="1.32"/>
<circle cx="291.3" cy="552.2" r="1.32"/>
<circle cx="295.2" cy="553.5" r="1.32"/>
<circle cx="299.1" cy="554.2" r="1.32"/>
<circle cx="303.0" cy="554.9" r="1.32"/>
<circle cx="306.9" cy="554.2" r="1.32"/>
<circle cx="310.8" cy="552.9" r="1.32"/>
<circle cx="283.5" cy="555.7" r="1.32"/>
<circle cx="287.4" cy="556.5" r="1.32"/>
<circle cx="291.3" cy="557.3" r="1.32"/>
<circle cx="295.2" cy="558.1" r="1.32"/>
<circle cx="299.1" cy="558.9" r="1.32"/>
<circle cx="303.0" cy="559.7" r="1.32"/>
<circle cx="306.9" cy="558.9" r="1.32"/>
<circle cx="310.8" cy="558.1" r="1.32"/>
<circle cx="314.7" cy="557.3" r="1.32"/>
<circle cx="318.6" cy="556.5" r="1.32"/>
<circle cx="322.5" cy="555.7" r="1.32"/>
<circle cx="295.2" cy="560.7" r="1.32"/>
<circle cx="306.9" cy="561.1" r="1.32"/>
<circle cx="310.8" cy="560.4" r="1.32"/>
<circle cx="299.1" cy="558.4" r="1.32"/>
<circle cx="299.1" cy="563.3" r="1.32"/>
<circle cx="303.0" cy="564.2" r="1.32"/>
<circle cx="299.1" cy="566.8" r="1.32"/>
<circle cx="303.0" cy="568.5" r="1.32"/>
<circle cx="306.9" cy="566.8" r="1.32"/>
<circle cx="310.8" cy="565.8" r="1.32"/>
<circle cx="295.2" cy="571.8" r="1.32"/>
<circle cx="299.1" cy="573.8" r="1.32"/>
<circle cx="303.0" cy="574.5" r="1.32"/>
<circle cx="306.9" cy="572.5" r="1.32"/>
<circle cx="310.8" cy="570.9" r="1.32"/>
<circle cx="314.7" cy="574.9" r="1.32"/>
<circle cx="295.2" cy="576.8" r="1.32"/>
<circle cx="299.1" cy="577.9" r="1.32"/>
<circle cx="303.0" cy="579.0" r="1.32"/>
<circle cx="306.9" cy="578.1" r="1.32"/>
<circle cx="310.8" cy="577.2" r="1.32"/>
<circle cx="291.3" cy="583.9" r="1.32"/>
<circle cx="295.2" cy="585.3" r="1.32"/>
<circle cx="299.1" cy="587.3" r="1.32"/>
<circle cx="303.0" cy="583.5" r="1.32"/>
<circle cx="303.0" cy="588.0" r="1.32"/>
<circle cx="306.9" cy="587.7" r="1.32"/>
<circle cx="310.8" cy="587.0" r="1.32"/>
<circle cx="314.7" cy="584.9" r="1.32"/>
<circle cx="295.2" cy="594.3" r="1.32"/>
<circle cx="299.1" cy="596.0" r="1.32"/>
<circle cx="303.0" cy="596.5" r="1.32"/>
<circle cx="306.9" cy="595.4" r="1.32"/>
<circle cx="310.8" cy="594.0" r="1.32"/>
<circle cx="291.3" cy="598.3" r="1.32"/>
<circle cx="295.2" cy="599.1" r="1.32"/>
<circle cx="299.1" cy="600.1" r="1.32"/>
<circle cx="299.1" cy="603.7" r="1.32"/>
<circle cx="303.0" cy="601.4" r="1.32"/>
<circle cx="303.0" cy="605.9" r="1.32"/>
<circle cx="306.9" cy="601.4" r="1.32"/>
<circle cx="306.9" cy="603.2" r="1.32"/>
<circle cx="310.8" cy="599.4" r="1.32"/>
<circle cx="314.7" cy="598.7" r="1.32"/>
<circle cx="318.6" cy="597.8" r="1.32"/>
<circle cx="299.1" cy="612.5" r="1.32"/>
<circle cx="299.1" cy="614.5" r="1.32"/>
<circle cx="303.0" cy="612.9" r="1.32"/>
<circle cx="306.9" cy="612.5" r="1.32"/>
<circle cx="303.0" cy="618.0" r="1.32"/>
<circle cx="299.1" cy="620.3" r="1.32"/>
<circle cx="303.0" cy="622.3" r="1.32"/>
<circle cx="306.9" cy="621.6" r="1.32"/>
<circle cx="303.0" cy="626.5" r="1.32"/>
<circle cx="303.0" cy="633.0" r="1.32"/>
<circle cx="306.9" cy="632.0" r="1.32"/>
</g>
<g stroke="#0a0a0a" fill="none">
<path d="M85.6,433.6 H147.4" stroke-width="2.2"/>
<path d="M99.8,429.7 H132.6 M99.8,437.1 H132.6" stroke-width="2.3"/><path d="M116.3,430.2 V436.9" stroke-width="1.4"/>
<path d="M178.8,518.2 H241" stroke-width="2.2"/>
<path d="M193.8,512.9 H225.8 M193.8,523.2 H225.8" stroke-width="1.9"/><path d="M209.8,512.9 V523.2" stroke-width="1.5"/>
<path d="M272,527.7 H334" stroke-width="2.2"/>
<path d="M287,522.7 H319 V533.2 H287 Z" stroke-width="1.9"/><path d="M303.2,522.6 V533" stroke-width="1.5"/>
</g>
</g>
</svg>
</body>
</html>
